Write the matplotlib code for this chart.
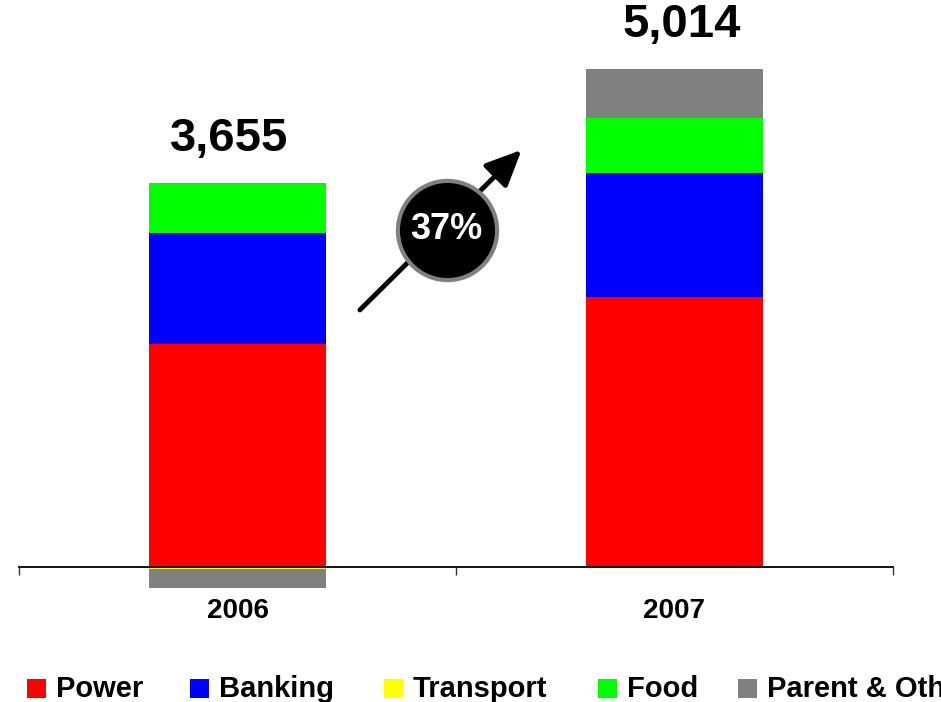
import numpy as np
import matplotlib
matplotlib.use("Agg")
import matplotlib.pyplot as plt
from matplotlib.patches import Rectangle

plt.rcParams.update({'font.family': ['Liberation Sans', 'DejaVu Sans'], 'font.weight': 'bold'})

# operating income by segment
years = ['2006', '2007']
segments = ['Power', 'Banking', 'Transport', 'Food', 'Parent & Other']
colours = ['#ff0000', '#0000ff', '#ffff00', '#00ff00', '#808080']
power = [2250, 2720]
banking = [1115, 1245]
transport = [-20, 4]
food = [500, 550]
parent = [-190, 495]
totals = [3655, 5014]
growth = '37%'

values = np.array([power, banking, transport, food, parent], dtype=float)

W, H = 941, 702
fig = plt.figure(figsize=(W / 100, H / 100), dpi=100)
ax = fig.add_axes([19 / W, 0.1358, 874 / W, 0.8204])

x = np.arange(len(years))
width = 0.403
pos_bottom = np.zeros(len(years))
neg_bottom = np.zeros(len(years))
for vals, c in zip(values, colours):
    bottoms = np.where(vals >= 0, pos_bottom, neg_bottom)
    ax.bar(x, vals, width, bottom=bottoms, color=c, linewidth=0, zorder=2)
    pos_bottom += np.where(vals >= 0, vals, 0)
    neg_bottom += np.where(vals < 0, vals, 0)

# totals above each bar
offsets = [-6, 5]
for xi, top, tot, dx in zip(x, pos_bottom, totals, offsets):
    ax.annotate(f'{tot:,}', (xi, top), xytext=(dx, 16), textcoords='offset points',
                ha='center', va='bottom', fontsize=34, fontweight='bold')

ax.set_xlim(-0.5, 1.5)
ax.set_ylim(-400, 5400)
for s in ['left', 'right', 'top']:
    ax.spines[s].set_visible(False)
ax.spines['bottom'].set_position(('data', 0))
ax.spines['bottom'].set_linewidth(1.3)
ax.spines['bottom'].set_zorder(3)
ax.set_yticks([])
ax.set_xticks(x)
ax.set_xticklabels(years, fontsize=20, fontweight='bold')
ax.tick_params(axis='x', which='major', length=0, pad=22)
ax.set_xticks([-0.5, 0.5, 1.5], minor=True)
ax.tick_params(axis='x', which='minor', length=6, width=1, color='#333333', direction='out')

# growth arrow with badge
ax.annotate('', xy=(0.650, 4200), xytext=(0.280, 2588),
            arrowprops=dict(arrowstyle='-|>,head_length=2.2,head_width=1.0',
                            color='black', lw=3.5, shrinkA=0, shrinkB=0),
            zorder=4)
ax.scatter([0.479], [3394], s=5100, color='black', edgecolors='#808080', linewidths=3, zorder=5)
ax.text(0.479, 3394, growth, color='white', fontsize=26, fontweight='bold',
        ha='center', va='center', zorder=6)

# legend along the bottom
legend_x = [27, 190, 384, 598, 738]
for name, c, lx in zip(segments, colours, legend_x):
    fig.patches.append(Rectangle((lx / W, (H - 698) / H), 19 / W, 19 / H,
                                 transform=fig.transFigure, facecolor=c, edgecolor='none'))
    fig.text((lx + 29) / W, (H - 697) / H, name, fontsize=21, fontweight='bold',
             ha='left', va='baseline')

fig.savefig('out.png', dpi=100)
